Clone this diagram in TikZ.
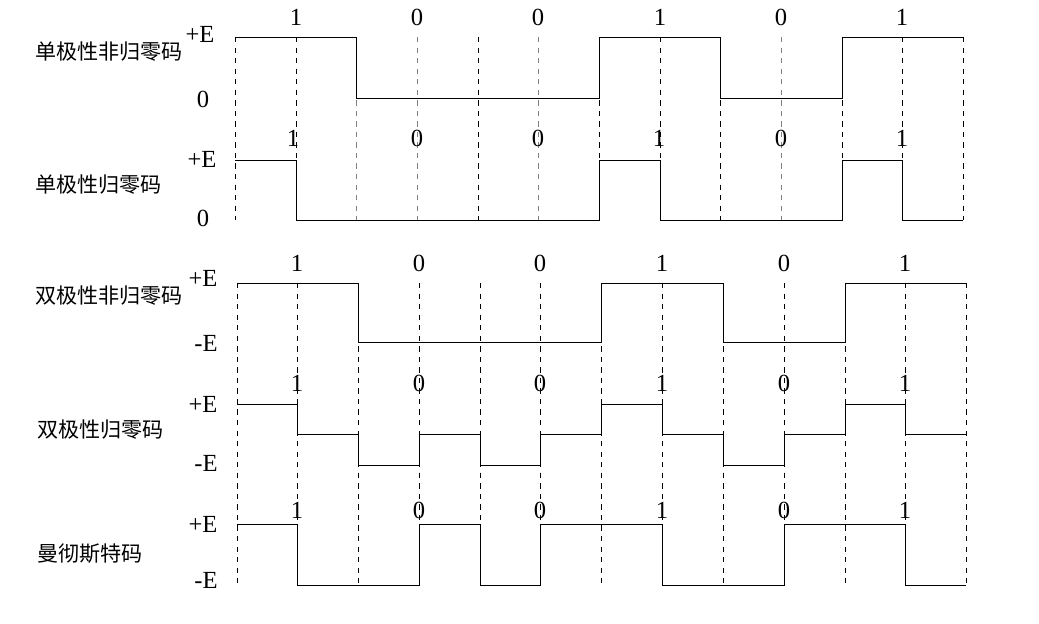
\documentclass[tikz,border=0pt]{standalone}
\usepackage{fontspec}
\setmainfont{Liberation Serif}
\newfontfamily\cjk{Noto Sans CJK SC}
\tikzset{
	wave/.style={line width=0.5pt},
	grid/.style={dashed, line width=0.5pt},
	gridg/.style={dashed, line width=0.5pt, gray},
	bit/.style={font=\fontsize{14}{15}\selectfont, inner sep=0pt},
	lvl/.style={font=\fontsize{14}{15}\selectfont, inner sep=0pt},
	code/.style={font=\cjk\fontsize{12}{13}\selectfont, anchor=west, inner sep=0pt}
}
\begin{document}
\begin{tikzpicture}[x=0.02cm, y=-0.02cm]
	\useasboundingbox (0,0) rectangle (1039,624);
	%% upper panel: unipolar
	\draw[grid] (235,37) -- (235,220);
	\draw[grid] (296,37) -- (296,220);
	\draw[gridg] (356,37) -- (356,220);
	\draw[gridg] (417,37) -- (417,220);
	\draw[grid] (478,37) -- (478,220);
	\draw[gridg] (538,37) -- (538,220);
	\draw[grid] (599,37) -- (599,220);
	\draw[grid] (660,37) -- (660,220);
	\draw[grid] (720,37) -- (720,220);
	\draw[gridg] (781,37) -- (781,220);
	\draw[grid] (842,37) -- (842,220);
	\draw[grid] (902,37) -- (902,220);
	\draw[grid] (963,37) -- (963,220);
	\draw[wave] (235,37) -- (356,37) -- (356,98) -- (599,98) -- (599,37) -- (720,37) -- (720,98) -- (842,98) -- (842,37) -- (963,37);
	\draw[wave] (235,160) -- (296,160) -- (296,220) -- (599,220) -- (599,160) -- (660,160) -- (660,220) -- (842,220) -- (842,160) -- (902,160) -- (902,220) -- (963,220);
	\node[bit] (ua1) at (296,17) {1};
	\node[bit] (ua2) at (417,17) {0};
	\node[bit] (ua3) at (538,17) {0};
	\node[bit] (ua4) at (660,17) {1};
	\node[bit] (ua5) at (781,17) {0};
	\node[bit] (ua6) at (902,17) {1};
	\node[bit] (ub1) at (293,138) {1};
	\node[bit] (ub2) at (417,138) {0};
	\node[bit] (ub3) at (538,138) {0};
	\node[bit] (ub4) at (659,138) {1};
	\node[bit] (ub5) at (781,138) {0};
	\node[bit] (ub6) at (902,138) {1};
	\node[lvl] (ua+) at (200,34) {+E};
	\node[lvl] (ua0) at (203,99) {0};
	\node[lvl] (ub+) at (202,159) {+E};
	\node[lvl] (ub0) at (203,218) {0};
	\node[code] (uanrz) at (35,52) {单极性非归零码};
	\node[code] (ubrz) at (35,185) {单极性归零码};
	%% lower panel: bipolar and Manchester
	\draw[grid] (237,283) -- (237,585);
	\draw[grid] (297,283) -- (297,585);
	\draw[grid] (358,283) -- (358,585);
	\draw[grid] (419,283) -- (419,585);
	\draw[grid] (480,283) -- (480,585);
	\draw[grid] (540,283) -- (540,585);
	\draw[grid] (601,283) -- (601,585);
	\draw[grid] (662,283) -- (662,585);
	\draw[grid] (723,283) -- (723,585);
	\draw[grid] (784,283) -- (784,585);
	\draw[grid] (845,283) -- (845,585);
	\draw[grid] (905,283) -- (905,585);
	\draw[grid] (966,283) -- (966,588);
	\draw[wave] (237,283) -- (358,283) -- (358,342) -- (601,342) -- (601,283) -- (723,283) -- (723,342) -- (845,342) -- (845,283) -- (966,283);
	\draw[wave] (237,404) -- (297,404) -- (297,434) -- (358,434) -- (358,465) -- (419,465) -- (419,434) -- (480,434) -- (480,465) -- (540,465) -- (540,434) -- (601,434) -- (601,404) -- (662,404) -- (662,434) -- (723,434) -- (723,465) -- (784,465) -- (784,434) -- (845,434) -- (845,404) -- (905,404) -- (905,434) -- (966,434);
	\draw[wave] (237,524) -- (297,524) -- (297,585) -- (419,585) -- (419,524) -- (480,524) -- (480,585) -- (540,585) -- (540,524) -- (662,524) -- (662,585) -- (784,585) -- (784,524) -- (905,524) -- (905,585) -- (966,585);
	\node[bit] (ba1) at (297,263) {1};
	\node[bit] (ba2) at (419,263) {0};
	\node[bit] (ba3) at (540,263) {0};
	\node[bit] (ba4) at (662,263) {1};
	\node[bit] (ba5) at (784,263) {0};
	\node[bit] (ba6) at (905,263) {1};
	\node[bit] (bb1) at (297,383) {1};
	\node[bit] (bb2) at (419,383) {0};
	\node[bit] (bb3) at (540,383) {0};
	\node[bit] (bb4) at (662,383) {1};
	\node[bit] (bb5) at (784,383) {0};
	\node[bit] (bb6) at (905,383) {1};
	\node[bit] (mc1) at (297,510) {1};
	\node[bit] (mc2) at (419,510) {0};
	\node[bit] (mc3) at (540,510) {0};
	\node[bit] (mc4) at (662,510) {1};
	\node[bit] (mc5) at (784,510) {0};
	\node[bit] (mc6) at (905,510) {1};
	\node[lvl] (ba+) at (203,278) {+E};
	\node[lvl] (ba-) at (206,343) {-E};
	\node[lvl] (bb+) at (203,404) {+E};
	\node[lvl] (bb-) at (206,463) {-E};
	\node[lvl] (mc+) at (203,524) {+E};
	\node[lvl] (mc-) at (206,580) {-E};
	\node[code] (banrz) at (35,296) {双极性非归零码};
	\node[code] (bbrz) at (37,430) {双极性归零码};
	\node[code] (mcode) at (37,554) {曼彻斯特码};
\end{tikzpicture}
\end{document}
